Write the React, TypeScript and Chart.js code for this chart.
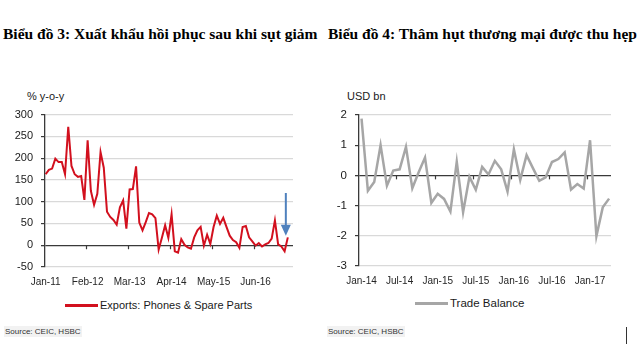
import React, { useEffect, useRef } from 'react';
import { Chart, registerables } from 'chart.js';
Chart.register(...registerables);

const MONTHS = ['Jan', 'Feb', 'Mar', 'Apr', 'May', 'Jun', 'Jul', 'Aug', 'Sep', 'Oct', 'Nov', 'Dec'];
function monthLabels(startYear: number, count: number): string[] {
  const out: string[] = [];
  for (let i = 0; i < count; i++) {
    const y = startYear + Math.floor(i / 12);
    out.push(MONTHS[i % 12] + '-' + String(y % 100).padStart(2, '0'));
  }
  return out;
}

// Chart 3: exports of phones & spare parts, % y-o-y, Jan-11 .. Apr-17
const exportValues = [
  163, 173, 176, 199, 191, 191, 163, 272, 182, 163, 157, 159,
  104, 241, 125, 93, 118, 214, 178, 77, 65, 58, 47, 87,
  103, 38, 128, 129, 181, 52, 34, 53, 74, 71, 62, -10,
  17, 46, 17, 71, -14, -17, 14, 1, -5, -8, 18, 34,
  42, -1, 24, 3, 42, 68, 49, 63, 42, 22, 12, 7,
  -6, 42, 44, 18, 9, -1, 5, -3, 2, 5, 15, 57,
  2, -3, -14, 18,
];
const exportMonths = monthLabels(2011, exportValues.length);
const exportTickLabels = ['Jan-11', 'Feb-12', 'Mar-13', 'Apr-14', 'May-15', 'Jun-16'];
const exportArrowFrom = 120;
const exportArrowTo = 22;

// Chart 4: trade balance, USD bn, Jan-14 .. Apr-17
const tradeBalance = [
  1.88, -0.51, -0.22, 1.0, -0.34, 0.16, 0.2, 0.94, -0.43, 0.1,
  0.59, -0.91, -0.61, -0.78, -1.2, 0.45, -1.22, -0.05, -0.48, 0.28,
  0.03, 0.48, 0.2, -0.54, 0.86, -0.15, 0.67, 0.24, -0.18, -0.07,
  0.44, 0.54, 0.76, -0.47, -0.29, -0.44, 1.16, -2.01, -1.06, -0.77,
];
const tradeMonths = monthLabels(2014, tradeBalance.length);
const tradeTickLabels = ['Jan-14', 'Jul-14', 'Jan-15', 'Jul-15', 'Jan-16', 'Jul-16', 'Jan-17'];

const SANS = '"Liberation Sans", Arial, sans-serif';
const AXIS_DARK = '#3a3a3a';
const GRID = '#d9d9d9';

function zeroTicksPlugin(tickIdx: number[]) {
  return {
    id: 'zeroTicks',
    afterDatasetsDraw(chart: any) {
      const xs = chart.scales.x;
      const ys = chart.scales.y;
      const y0 = ys.getPixelForValue(0);
      const ctx = chart.ctx;
      ctx.save();
      ctx.strokeStyle = AXIS_DARK;
      ctx.lineWidth = 1.2;
      tickIdx.forEach((k) => {
        if (k <= 0) return;
        const x = Math.round(xs.getPixelForValue(k - 0.5)) + 0.5;
        ctx.beginPath();
        ctx.moveTo(x, y0);
        ctx.lineTo(x, y0 + 4);
        ctx.stroke();
      });
      ctx.restore();
    },
  };
}

const arrowPlugin = {
  id: 'arrow',
  afterDatasetsDraw(chart: any) {
    const xs = chart.scales.x;
    const ys = chart.scales.y;
    const x = xs.getPixelForValue(exportValues.length - 1) - 2;
    const yTop = ys.getPixelForValue(exportArrowFrom);
    const yTip = ys.getPixelForValue(exportArrowTo);
    const ctx = chart.ctx;
    ctx.save();
    ctx.strokeStyle = '#4f81bd';
    ctx.fillStyle = '#4f81bd';
    ctx.lineWidth = 2;
    ctx.beginPath();
    ctx.moveTo(x, yTop);
    ctx.lineTo(x, yTip - 9);
    ctx.stroke();
    ctx.beginPath();
    ctx.moveTo(x - 5, yTip - 11);
    ctx.lineTo(x + 5, yTip - 11);
    ctx.lineTo(x, yTip);
    ctx.closePath();
    ctx.fill();
    ctx.restore();
  },
};

function LineChart(props: {
  values: number[];
  months: string[];
  tickLabels: string[];
  color: string;
  width: number;
  yMin: number;
  yMax: number;
  yStep: number;
  xMin: number;
  xMax: number;
  yAxisWidth: number;
  padTop: number;
  padRight: number;
  plotHeight: number;
  canvasH: number;
  canvasW: number;
  fontSize: number;
  xFontSize: number;
  extraPlugins: any[];
}) {
  const ref = useRef<HTMLCanvasElement | null>(null);
  useEffect(() => {
    if (!ref.current) return;
    const tickIdx = props.tickLabels.map((l) => props.months.indexOf(l));
    const chart = new Chart(ref.current, {
      type: 'line',
      data: {
        datasets: [
          {
            data: props.values.map((v, i) => ({ x: i, y: v })),
            borderColor: props.color,
            borderWidth: props.width,
            pointRadius: 0,
            tension: 0,
            fill: false,
          },
        ],
      },
      options: {
        responsive: false,
        animation: false,
        layout: { padding: { top: props.padTop, right: props.padRight, left: 0, bottom: 0 } },
        plugins: { legend: { display: false }, tooltip: { enabled: false } },
        scales: {
          x: {
            type: 'linear',
            min: props.xMin,
            max: props.xMax,
            grid: { display: false, drawTicks: false },
            border: { display: false },
            afterBuildTicks: (s: any) => {
              s.ticks = tickIdx.map((v) => ({ value: v }));
            },
            afterFit: (s: any) => {
              s.height = props.canvasH - props.padTop - props.plotHeight;
            },
            ticks: {
              autoSkip: false,
              maxRotation: 0,
              padding: 9,
              color: '#262626',
              font: { family: SANS, size: props.xFontSize },
              callback: (v: any) => props.months[Math.round(Number(v))] ?? '',
            },
          },
          y: {
            min: props.yMin,
            max: props.yMax,
            afterFit: (s: any) => {
              s.width = props.yAxisWidth;
            },
            grid: {
              color: (c: any) => (c.tick && c.tick.value === 0 ? AXIS_DARK : GRID),
              lineWidth: (c: any) => (c.tick && c.tick.value === 0 ? 1.3 : 1.2),
              tickLength: 4,
              tickColor: AXIS_DARK,
            },
            border: { display: true, color: AXIS_DARK, width: 1.3 },
            ticks: {
              stepSize: props.yStep,
              padding: 8,
              color: '#1a1a1a',
              font: { family: SANS, size: props.fontSize },
            },
          },
        },
      },
      plugins: [zeroTicksPlugin(tickIdx), ...props.extraPlugins],
    } as any);
    return () => chart.destroy();
  }, []);
  return <canvas ref={ref} width={props.canvasW} height={props.canvasH} style={{ display: 'block', width: props.canvasW, height: props.canvasH }} />;
}

const abs = (left: number, top: number, extra: React.CSSProperties = {}): React.CSSProperties => ({
  position: 'absolute',
  left,
  top,
  whiteSpace: 'nowrap',
  ...extra,
});

export default function App() {
  const title: React.CSSProperties = {
    fontFamily: '"Liberation Serif", "Times New Roman", serif',
    fontWeight: 'bold',
    fontSize: 15.5,
    lineHeight: '16px',
    color: '#000',
  };
  const small: React.CSSProperties = { fontFamily: SANS, fontSize: 11, lineHeight: '12px', color: '#1a1a1a' };
  const source: React.CSSProperties = { fontFamily: SANS, fontSize: 8, lineHeight: '11px', color: '#333', background: '#f2f2f2', padding: '0 1px' };
  return (
    <div style={{ position: 'absolute', left: 0, top: 0, width: 640, height: 361, background: '#fff', overflow: 'hidden' }}>
      <div style={abs(3, 26, title)}>Biểu đồ 3: Xuất khẩu hồi phục sau khi sụt giảm</div>
      <div style={abs(328, 26, title)}>Biểu đồ 4: Thâm hụt thương mại được thu hẹp</div>

      <div style={abs(27, 90, small)}>% y-o-y</div>
      <div style={abs(347, 90, small)}>USD bn</div>

      <div style={abs(0, 100)}>
        <LineChart
          values={exportValues}
          months={exportMonths}
          tickLabels={exportTickLabels}
          color="#d2101e"
          width={2}
          yMin={-50}
          yMax={300}
          yStep={50}
          xMin={-0.2}
          xMax={exportValues.length - 1 + 1.6}
          yAxisWidth={45}
          padTop={13}
          padRight={7}
          plotHeight={154}
          canvasH={195}
          canvasW={300}
          fontSize={11}
          xFontSize={10}
          extraPlugins={[arrowPlugin]}
        />
      </div>
      <div style={abs(320, 100)}>
        <LineChart
          values={tradeBalance}
          months={tradeMonths}
          tickLabels={tradeTickLabels}
          color="#a6a6a6"
          width={2.5}
          yMin={-3}
          yMax={2}
          yStep={1}
          xMin={-0.4}
          xMax={tradeBalance.length - 1 + 0.3}
          yAxisWidth={39}
          padTop={12}
          padRight={9}
          plotHeight={154}
          canvasH={195}
          canvasW={300}
          fontSize={11.5}
          xFontSize={10}
          extraPlugins={[]}
        />
      </div>

      <div style={abs(65, 304, { width: 33, height: 2.5, background: '#d2101e' })} />
      <div style={abs(100, 299, small)}>Exports: Phones &amp; Spare Parts</div>
      <div style={abs(415, 302, { width: 33, height: 2.5, background: '#a6a6a6' })} />
      <div style={abs(450, 297, { ...small, fontSize: 11.5 })}>Trade Balance</div>

      <div style={abs(4, 326, source)}>Source: CEIC, HSBC</div>
      <div style={abs(327, 326, source)}>Source: CEIC, HSBC</div>
      <div style={abs(626, 327, { width: 1, height: 17, background: '#333' })} />
    </div>
  );
}
